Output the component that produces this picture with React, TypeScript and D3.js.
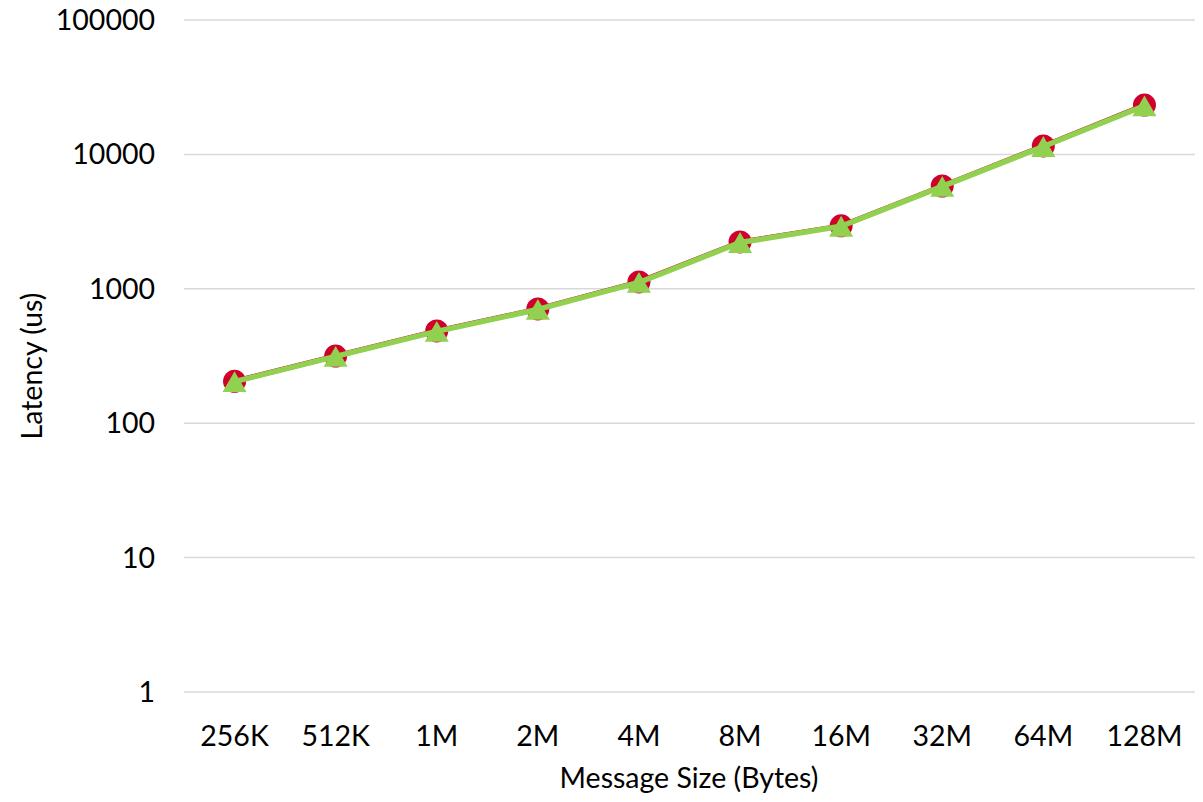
import * as d3 from "d3";

const sizes = ["256K", "512K", "1M", "2M", "4M", "8M", "16M", "32M", "64M", "128M"];
const latencyA = [205, 316, 486, 708, 1125, 2230, 2940, 5820, 11550, 23300];
const latencyB = [204, 314, 482, 702, 1115, 2210, 2920, 5780, 11450, 23000];
const yTicks = [1, 10, 100, 1000, 10000, 100000];

const W = 1203;
const H = 802;
const MARGIN = { top: 20, right: 8, bottom: 110, left: 184 };
const FONT = "Lato, 'Open Sans', sans-serif";
const FS = 28.5;

export default function App() {
  const boundsWidth = W - MARGIN.left - MARGIN.right;
  const boundsHeight = H - MARGIN.top - MARGIN.bottom;

  const xScale = d3.scaleBand().domain(sizes).range([0, boundsWidth]);
  const yScale = d3.scaleLog().domain([1, 100000]).range([boundsHeight, 0]);
  const cx = (s: string) => (xScale(s) ?? 0) + xScale.bandwidth() / 2;

  const line = d3
    .line<number>()
    .x((_, i) => cx(sizes[i]))
    .y((d) => yScale(d));

  // d3's triangle is centred on its centroid; shift it so the box is centred like Excel's
  const triArea = 250;
  const tri = d3.symbol(d3.symbolTriangle, triArea)() as string;
  const triShift = Math.sqrt(triArea * Math.sqrt(3)) / 6;

  return (
    <svg width={W} height={H} style={{ position: "absolute", left: 0, top: 0 }}>
      <rect width={W} height={H} fill="#fff" />
      <g transform={`translate(${MARGIN.left},${MARGIN.top})`}>
        {yTicks.map((t) => (
          <g key={t}>
            <line x1={0} x2={boundsWidth} y1={yScale(t)} y2={yScale(t)} stroke="#d9d9d9" strokeWidth={1.5} />
            <text x={-29} y={yScale(t)} dy="0.35em" textAnchor="end" fontFamily={FONT} fontSize={FS} fill="#000">
              {t}
            </text>
          </g>
        ))}
        {sizes.map((s) => (
          <text key={s} x={cx(s)} y={boundsHeight + 54} textAnchor="middle" fontFamily={FONT} fontSize={FS} fill="#000">
            {s}
          </text>
        ))}
        <path d={line(latencyA) as string} fill="none" stroke="#c8102e" strokeWidth={5} strokeLinejoin="round" />
        {latencyA.map((v, i) => (
          <circle key={i} cx={cx(sizes[i])} cy={yScale(v)} r={11.5} fill="#d0002a" />
        ))}
        <path d={line(latencyB) as string} fill="none" stroke="#92d050" strokeWidth={5.5} strokeLinejoin="round" />
        {latencyB.map((v, i) => (
          <path key={i} d={tri} transform={`translate(${cx(sizes[i])},${yScale(v) + triShift})`} fill="#92d050" />
        ))}
      </g>
      <text
        transform={`translate(42,${MARGIN.top + boundsHeight / 2 + 10}) rotate(-90)`}
        textAnchor="middle"
        fontFamily={FONT}
        fontSize={FS}
        fill="#000"
      >
        Latency (us)
      </text>
      <text x={689} y={788} textAnchor="middle" fontFamily={FONT} fontSize={FS} fill="#000">
        Message Size (Bytes)
      </text>
    </svg>
  );
}
